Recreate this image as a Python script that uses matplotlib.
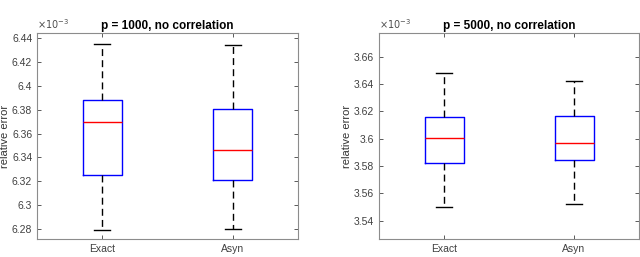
import numpy as np
import matplotlib
matplotlib.use('Agg')
from matplotlib import pyplot as plt

plt.rcParams['font.family'] = ['Liberation Sans', 'DejaVu Sans']

labels = ['Exact', 'Asyn']

# values in units of 1e-3
titles = ['p = 1000, no correlation', 'p = 5000, no correlation']
whislo = [[6.2787, 6.2795], [3.5498, 3.5520]]
q1 = [[6.3249, 6.3209], [3.5820, 3.5842]]
med = [[6.3697, 6.3459], [3.6003, 3.5968]]
q3 = [[6.3884, 6.3806], [3.6161, 3.6163]]
whishi = [[6.4355, 6.4341], [3.6478, 3.6422]]

ylims = [(6.2713, 6.4445), (3.5266, 3.6773)]
yticks = [np.arange(6.28, 6.441, 0.02), np.arange(3.54, 3.661, 0.02)]

fig = plt.figure(figsize=(6.4, 2.57), dpi=100)
axes_pos = [[37 / 640, 18 / 257, 261 / 640, 206 / 257],
            [379 / 640, 18 / 257, 260 / 640, 206 / 257]]

for k in range(2):
    ax = fig.add_axes(axes_pos[k])
    stats = []
    for i in range(2):
        stats.append(dict(whislo=whislo[k][i], q1=q1[k][i], med=med[k][i],
                          q3=q3[k][i], whishi=whishi[k][i], fliers=[]))
    ax.bxp(stats, positions=[1, 2], widths=0.3, capwidths=0.12,
           showfliers=False,
           boxprops=dict(color='blue', linewidth=1.0),
           medianprops=dict(color='red', linewidth=1.0),
           whiskerprops=dict(color='black', linewidth=1.0, linestyle=(0, (5, 3))),
           capprops=dict(color='black', linewidth=1.0))
    ax.set_xlim(0.5, 2.5)
    ax.set_ylim(*ylims[k])
    ax.set_xticks([1, 2])
    ax.set_xticklabels(labels)
    ax.set_yticks(yticks[k])
    ax.set_yticklabels(['%g' % round(v, 2) for v in yticks[k]])
    ax.tick_params(direction='in', length=3, labelsize=7.5, colors='0.25',
                   top=True, right=True, width=0.6)
    for s in ax.spines.values():
        s.set_color('0.55')
        s.set_linewidth(0.8)
    ax.set_ylabel('relative error', fontsize=8, color='0.2')
    ax.yaxis.set_label_coords(-0.102, 0.5)
    ax.set_title(titles[k], fontsize=8.5, fontweight='bold', pad=3)
    ax.text(0.0, 1.01, r'$\times10^{-3}$', transform=ax.transAxes,
            fontsize=7, color='0.3', ha='left', va='bottom')

fig.savefig('out.png', dpi=100)
